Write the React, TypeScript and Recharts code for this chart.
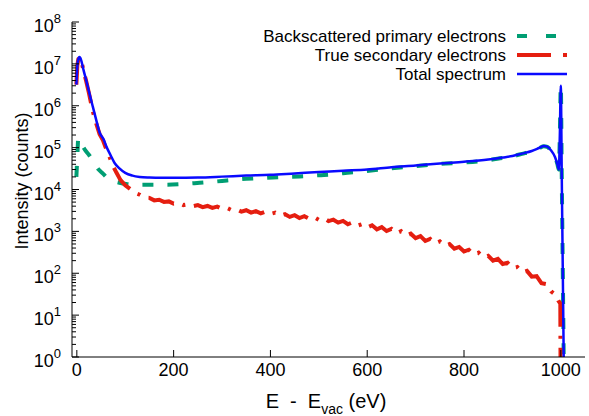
import { LineChart, Line, XAxis, YAxis, Legend, Label } from "recharts";

// energies (eV) and intensities (counts)
const backscatterE = [-1, 1, 3, 5, 8, 12, 18, 26, 35, 45, 54, 65, 75, 88, 102, 120, 150, 185, 220, 254, 300, 322, 350, 391, 430, 460, 500, 529, 550, 592, 650, 700, 750, 800, 850, 880, 900, 920, 940, 955, 965, 972, 980, 988, 993, 996, 998, 1000, 1002, 1004, 1006, 1008];
const backscatterI = [2e4, 6e4, 1.7e5, 1.6e5, 1.35e5, 1.1e5, 8.5e4, 6.5e4, 4.5e4, 3e4, 2.4e4, 1.8e4, 1.6e4, 1.45e4, 1.35e4, 1.3e4, 1.3e4, 1.3e4, 1.35e4, 1.45e4, 1.6e4, 1.7e4, 1.8e4, 1.9e4, 2.0e4, 2.05e4, 2.2e4, 2.3e4, 2.45e4, 2.7e4, 3.2e4, 3.6e4, 4.1e4, 4.4e4, 5e4, 5.7e4, 6.2e4, 7.1e4, 8.2e4, 9.7e4, 1.08e5, 1.04e5, 8.4e4, 6e4, 4e4, 3e4, 2e5, 3e6, 2e4, 150, 1, 0.01];

const secondaryE = [-1, 1, 3, 5, 7, 10, 14, 19, 25, 33, 40, 47, 54, 61, 68, 75, 82, 90,
  100, 110, 120, 130, 140, 150, 160, 170, 180, 190, 200, 210, 220, 230, 240, 250, 260, 270, 280, 290,
  300, 310, 320, 330, 340, 350, 360, 370, 380, 390, 400, 410, 420, 430, 440, 450, 460, 470, 480, 490,
  500, 510, 520, 530, 540, 550, 560, 570, 580, 590, 600, 610, 620, 630, 640, 650, 660, 670, 680, 690,
  700, 710, 720, 730, 740, 750, 760, 770, 780, 790, 800, 810, 820, 830, 840, 850, 860, 870, 880, 890,
  900, 910, 920, 930, 940, 950, 960, 970, 980, 990, 995, 999, 1000];
const secondaryI = [3.2e6, 9e6, 1.3e7, 1.43e7, 1.38e7, 1.08e7, 6.8e6, 4e6, 2e6, 7.3e5, 3.8e5, 2.1e5, 1.5e5, 9e4, 5.8e4, 3.6e4, 2.5e4, 1.7e4,
  12600, 10300, 8300, 7500, 6400, 6300, 5500, 5700, 5050, 5200, 4600, 4800, 4250, 4450, 4000, 4250, 3800, 4050, 3650, 3900,
  3450, 3650, 3200, 3350, 2950, 3200, 2800, 3050, 2700, 2980, 2620, 2800, 2380, 2580, 2220, 2430, 2080, 2300, 2000, 2200,
  1880, 2060, 1760, 1900, 1620, 1780, 1480, 1650, 1370, 1500, 1240, 1400, 1120, 1260, 1020, 1150, 900, 1010, 790, 880,
  690, 770, 590, 660, 515, 575, 450, 495, 385, 425, 330, 365, 280, 310, 238, 262, 200, 220, 166, 178,
  132, 141, 105, 114, 83, 85, 58, 55, 37, 30, 22, 19, 0.01];

const totalE = [-1, 1, 3, 5, 7, 10, 14, 19, 25, 33, 40, 47, 55, 62, 70, 78, 88, 100, 115, 130, 150, 175, 200, 250, 300, 350, 400, 450, 500, 550, 600, 650, 700, 750, 800, 850, 880, 900, 920, 940, 955, 965, 972, 980, 988, 993, 996, 998, 1000, 1002, 1004, 1006, 1008];
const totalI = [3.2e6, 9e6, 1.3e7, 1.45e7, 1.4e7, 1.1e7, 7e6, 4.2e6, 2.2e6, 9.5e5, 4.6e5, 2.3e5, 1.6e5, 1e5, 6.5e4, 4.3e4, 3.2e4, 2.5e4, 2.15e4, 2.0e4, 1.93e4, 1.9e4, 1.9e4, 1.93e4, 2.03e4, 2.15e4, 2.25e4, 2.42e4, 2.6e4, 2.8e4, 3.0e4, 3.4e4, 3.75e4, 4.2e4, 4.6e4, 5.2e4, 5.8e4, 6.3e4, 7.2e4, 8.3e4, 9.8e4, 1.1e5, 1.05e5, 8.5e4, 6e4, 4e4, 3e4, 2e5, 3e6, 2e4, 150, 1, 0.01];

const xTicks = [0, 200, 400, 600, 800, 1000];
const yMajor = [1, 10, 100, 1e3, 1e4, 1e5, 1e6, 1e7, 1e8];
const yMinorSteps = [2, 3, 4, 5, 6, 7, 8, 9];
const yTicks = yMajor.flatMap((d) => (d < 1e8 ? [d, ...yMinorSteps.map((m) => m * d)] : [d]));

const seriesNames = ["Backscattered primary electrons", "True secondary electrons", "Total spectrum"];

const pairs = (xs: number[], ys: number[]) => xs.map((e, i) => ({ e, v: ys[i] }));
const backscatterData = pairs(backscatterE, backscatterI);
const secondaryData = pairs(secondaryE, secondaryI);
const totalData = pairs(totalE, totalI);

const GREEN = "#009e73";
const RED = "#e51e10";
const BLUE = "#0a0aff";
const FONT = "'Liberation Sans', Arial, Helvetica, sans-serif";

const legendDash: Record<string, { w: number; dash?: string }> = {
  [seriesNames[0]]: { w: 4, dash: "10 19" },
  [seriesNames[1]]: { w: 4, dash: "34 12 4 20" },
  [seriesNames[2]]: { w: 2.5 },
};

const isMajor = (v: number) => Math.abs(Math.log10(v) - Math.round(Math.log10(v))) < 1e-6;

function BottomTick({ x, y, payload }: any) {
  return (
    <g>
      <line x1={x} y1={y} x2={x} y2={y - 7} stroke="#000" />
      <text x={x} y={y + 19} textAnchor="middle" fontSize={18} fill="#000">
        {payload.value}
      </text>
    </g>
  );
}

function TopTick({ x, y }: any) {
  return <line x1={x} y1={y} x2={x} y2={y + 7} stroke="#000" />;
}

function LeftTick({ x, y, payload }: any) {
  const v = payload.value;
  const major = isMajor(v);
  return (
    <g>
      <line x1={x} y1={y} x2={x + (major ? 7 : 4)} y2={y} stroke="#000" />
      {major && (
        <text x={x - 11} y={y + 10} textAnchor="end" fontSize={18} fill="#000">
          10<tspan dy={-9} fontSize={13}>{Math.round(Math.log10(v))}</tspan>
        </text>
      )}
    </g>
  );
}

function RightTick({ x, y, payload }: any) {
  const major = isMajor(payload.value);
  return <line x1={x} y1={y} x2={x - (major ? 7 : 4)} y2={y} stroke="#000" />;
}

function LegendBox({ payload }: any) {
  // keep the plotting order, not alphabetical
  const items = [...(payload || [])].sort(
    (a: any, b: any) => seriesNames.indexOf(a.value) - seriesNames.indexOf(b.value)
  );
  return (
    <div style={{ display: "flex", flexDirection: "column", alignItems: "flex-end", fontFamily: FONT }}>
      {items.map((item: any) => {
        const s = legendDash[item.value] || { w: 2 };
        return (
          <div key={item.value} style={{ display: "flex", alignItems: "center", height: 19 }}>
            <span
              style={{
                display: "block",
                height: 19,
                fontSize: 17,
                lineHeight: "19px",
                marginRight: 11,
                color: "#000",
                whiteSpace: "nowrap",
              }}
            >
              {item.value}
            </span>
            <svg width={50} height={8}>
              <line x1={0} y1={4} x2={50} y2={4} stroke={item.color} strokeWidth={s.w} strokeDasharray={s.dash} />
            </svg>
          </div>
        );
      })}
    </div>
  );
}

export default function App() {
  return (
    <div style={{ position: "absolute", left: 0, top: 0, fontFamily: FONT, background: "#fff" }}>
      <LineChart width={589} height={416} margin={{ top: 22, right: 4, bottom: 0, left: 0 }}>
        <XAxis
          xAxisId="b"
          dataKey="e"
          type="number"
          domain={[-10, 1050]}
          ticks={xTicks}
          allowDataOverflow
          height={59}
          interval={0}
          tickSize={0}
          tickMargin={0}
          tickLine={false}
          tick={<BottomTick />}
          axisLine={{ stroke: "#000" }}
        >
          <Label
            content={() => (
              <text x={326} y={408} textAnchor="middle" fontSize={20} fill="#000" xmlSpace="preserve" style={{ whiteSpace: "pre" }}>
                {"E  -  E"}
                <tspan dy={6} fontSize={14}>vac</tspan>
                <tspan dy={-6}>{" (eV)"}</tspan>
              </text>
            )}
          />
        </XAxis>
        <XAxis
          xAxisId="t"
          orientation="top"
          dataKey="e"
          type="number"
          domain={[-10, 1050]}
          ticks={xTicks}
          allowDataOverflow
          height={0}
          interval={0}
          tickSize={0}
          tickMargin={0}
          tickLine={false}
          tick={<TopTick />}
          axisLine={{ stroke: "#000" }}
        />
        <YAxis
          yAxisId="l"
          scale="log"
          type="number"
          domain={[1, 1e8]}
          ticks={yTicks}
          allowDataOverflow
          width={72}
          interval={0}
          tickSize={0}
          tickMargin={0}
          tickLine={false}
          tick={<LeftTick />}
          axisLine={{ stroke: "#000" }}
        >
          <Label
            content={() => (
              <text
                x={22}
                y={181}
                transform="rotate(-90 22 181)"
                textAnchor="middle"
                dominantBaseline="central"
                fontSize={18}
                fill="#000"
              >
                Intensity (counts)
              </text>
            )}
          />
        </YAxis>
        <YAxis
          yAxisId="r"
          orientation="right"
          scale="log"
          type="number"
          domain={[1, 1e8]}
          ticks={yTicks}
          allowDataOverflow
          width={0}
          interval={0}
          tickSize={0}
          tickMargin={0}
          tickLine={false}
          tick={<RightTick />}
          axisLine={{ stroke: "#000" }}
        />
        <Legend
          layout="vertical"
          align="center"
          verticalAlign="middle"
          content={<LegendBox />}
          wrapperStyle={{ top: 26.5, left: 200, width: 367, bottom: "auto" }}
        />
        <Line
          xAxisId="b"
          yAxisId="l"
          data={backscatterData}
          dataKey="v"
          name={seriesNames[0]}
          type="monotone"
          stroke={GREEN}
          strokeWidth={4}
          strokeDasharray="11 14"
          dot={false}
          activeDot={false}
          isAnimationActive={false}
        />
        <Line
          xAxisId="b"
          yAxisId="l"
          data={secondaryData}
          dataKey="v"
          name={seriesNames[1]}
          type="linear"
          stroke={RED}
          strokeWidth={4}
          strokeDasharray="27 9 3 9"
          dot={false}
          activeDot={false}
          isAnimationActive={false}
        />
        <Line
          xAxisId="b"
          yAxisId="l"
          data={totalData}
          dataKey="v"
          name={seriesNames[2]}
          type="monotone"
          stroke={BLUE}
          strokeWidth={2.5}
          dot={false}
          activeDot={false}
          isAnimationActive={false}
        />
      </LineChart>
    </div>
  );
}
